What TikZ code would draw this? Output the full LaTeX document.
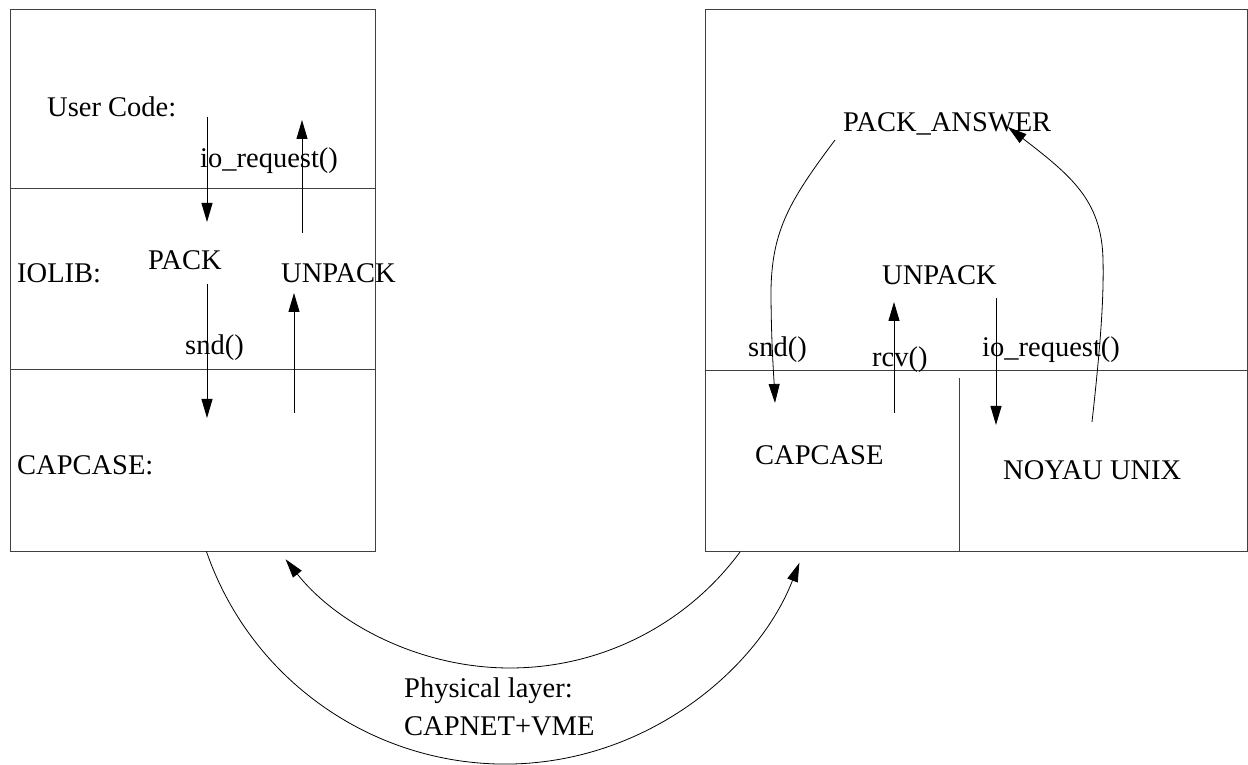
\documentclass[tikz,border=0pt]{standalone}
\usepackage{fontspec}
\setmainfont{Liberation Serif}
\usetikzlibrary{arrows.meta}
\begin{document}
\begin{tikzpicture}[x=1pt,y=1pt,
  boxline/.style={line width=1pt,draw=black!75},
  arr/.style={line width=1pt,-{Triangle[length=19pt,width=11pt]}},
  curve/.style={line width=0.8pt,-{Triangle[length=19pt,width=11pt]}},
  lbl/.style={inner sep=0pt,anchor=base west,font=\fontsize{28.5}{34}\selectfont}]
\useasboundingbox (0,0) rectangle (1248,764);
% boxes
\draw[boxline] (10,213) rectangle (375,754);
\draw[boxline] (10,575) -- (375,575);
\draw[boxline] (10,394) -- (375,394);
\draw[boxline] (705,213) rectangle (1247,754);
\draw[boxline] (705,393) -- (1247,393);
\draw[boxline] (959,386) -- (959,213);
% left texts
\node[lbl] (user) at (47,647) {User Code:};
\node[lbl] (ioreqL) at (200,596) {io\_request()};
\node[lbl] (iolib) at (17,481) {IOLIB:};
\node[lbl] (pack) at (148,494) {PACK};
\node[lbl] (unpackL) at (281,481) {UNPACK};
\node[lbl] (sndL) at (185,409) {snd()};
\node[lbl] (capL) at (17,289) {CAPCASE:};
% right texts
\node[lbl] (packans) at (843,632) {PACK\_ANSWER};
\node[lbl] (unpackR) at (882,479) {UNPACK};
\node[lbl] (sndR) at (748,407) {snd()};
\node[lbl] (rcv) at (872,397) {rcv()};
\node[lbl] (ioreqR) at (982,407) {io\_request()};
\node[lbl] (capR) at (755,299) {CAPCASE};
\node[lbl] (noyau) at (1003,284) {NOYAU UNIX};
\node[lbl] (phys) at (404,67) {Physical layer:};
\node[lbl] (capnet) at (404,29) {CAPNET+VME};
% coordinates
\coordinate (a1s) at (207,647); \coordinate (a1e) at (207,542);
\coordinate (a2s) at (302,531); \coordinate (a2e) at (302,644);
\coordinate (a3s) at (207,480); \coordinate (a3e) at (207,346);
\coordinate (a4s) at (294,351); \coordinate (a4e) at (294,471);
\coordinate (rcvs) at (894,351); \coordinate (rcve) at (894,462);
\coordinate (ios) at (996,466); \coordinate (ioe) at (996,339);
\coordinate (snds) at (835,624); \coordinate (snde) at (775,361);
\coordinate (noys) at (1092,342); \coordinate (noye) at (1008,637);
\coordinate (outs) at (206.4,212.6);
\coordinate (ins) at (740,212);
% left arrows
\draw[arr] (a1s) -- (a1e);
\draw[arr] (a2s) -- (a2e);
\draw[arr] (a3s) -- (a3e);
\draw[arr] (a4s) -- (a4e);
% right arrows
\draw[arr] (rcvs) -- (rcve);
\draw[arr] (ios) -- (ioe);
\draw[curve] (snds) .. controls (790,564) and (772,534) .. (771,474)
  .. controls (771,424) and (774,384) .. (snde);
\draw[curve] (noys) .. controls (1100,414) and (1104,464) .. (1103,504)
  .. controls (1102,564) and (1070,589) .. (noye);
% physical layer arcs
\draw[curve] (outs) arc[start angle=199.1, end angle=338.7, radius=316pt];
\draw[curve] (ins) arc[start angle=-36.47, end angle=-141.7, radius=286pt];
\end{tikzpicture}
\end{document}
